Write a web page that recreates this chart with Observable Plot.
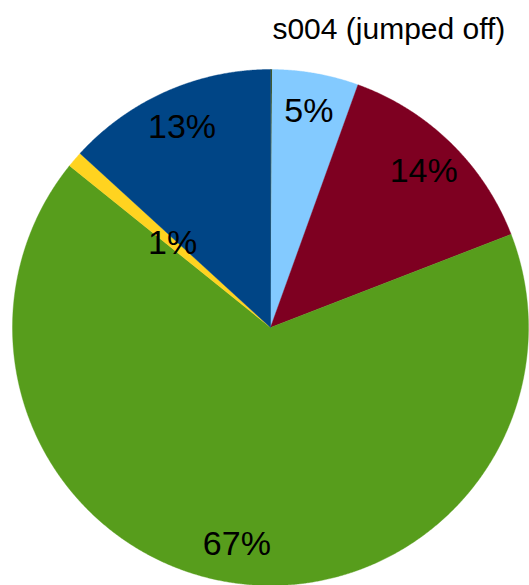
<!DOCTYPE html>
<html>
<head>
<meta charset="utf-8">
<script src="https://cdn.jsdelivr.net/npm/d3@7"></script>
<script src="https://cdn.jsdelivr.net/npm/@observablehq/plot@0.6"></script>
<style>
  html, body { margin: 0; padding: 0; background: #fff; }
  svg { display: block; }
</style>
</head>
<body>
<div id="chart"></div>
<script>
// Slices in clockwise order starting at 12 o'clock
const categories = ["s004 (jumped off)", "s006", "s005", "s003", "s002", "s001"];
const values = [0.1, 5.4, 13.6, 66.6, 1.0, 13.2];
const colors = ["#314004", "#83caff", "#7e0021", "#579d1c", "#ffd320", "#004586"];
const namedLabels = ["s004 (jumped off)"];

const total = d3.sum(values);
const arcs = d3.pie().sort(null).value(d => d.value)(
  categories.map((c, i) => ({category: c, value: values[i]}))
);

// Polygon outline for each slice (unit circle, angles clockwise from top)
const outline = [];
for (const a of arcs) {
  const cat = a.data.category;
  outline.push({category: cat, x: 0, y: 0});
  const n = Math.max(2, Math.ceil((a.endAngle - a.startAngle) / (Math.PI / 720)));
  for (let k = 0; k <= n; k++) {
    const t = a.startAngle + (a.endAngle - a.startAngle) * k / n;
    outline.push({category: cat, x: Math.sin(t), y: Math.cos(t)});
  }
  outline.push({category: cat, x: 0, y: 0});
}

// Percentage labels
const pctLabels = arcs
  .filter(a => a.data.value / total >= 0.005)
  .map(a => {
    const m = (a.startAngle + a.endAngle) / 2;
    const r = a.data.value / total < 0.02 ? 0.5 : 0.85;
    return {x: r * Math.sin(m), y: r * Math.cos(m), text: Math.round(a.data.value / total * 100) + "%"};
  });

// Name label for the tiny slice
const nameLabels = arcs
  .filter(a => namedLabels.includes(a.data.category))
  .map(a => {
    const m = (a.startAngle + a.endAngle) / 2;
    return {x: 1.155 * Math.sin(m), y: 1.155 * Math.cos(m), text: a.data.category};
  });

const chart = Plot.plot({
  width: 529,
  height: 585,
  marginLeft: 12,
  marginRight: 1,
  marginTop: 69,
  marginBottom: 0,
  x: {domain: [-1, 1], axis: null},
  y: {domain: [-1, 1], axis: null},
  color: {domain: categories, range: colors},
  style: {fontFamily: "'Liberation Sans', Arial, sans-serif", background: "#fff", overflow: "visible"},
  marks: [
    Plot.line(outline, {x: "x", y: "y", z: "category", fill: "category", stroke: "category", strokeWidth: 0.4, curve: "linear"}),
    Plot.text(pctLabels, {x: "x", y: "y", text: "text", fontSize: 34, fill: "#000"}),
    Plot.text(nameLabels, {x: "x", y: "y", text: "text", fontSize: 30, fill: "#000", textAnchor: "start", dx: 1})
  ]
});
document.getElementById("chart").appendChild(chart);
</script>
</body>
</html>
